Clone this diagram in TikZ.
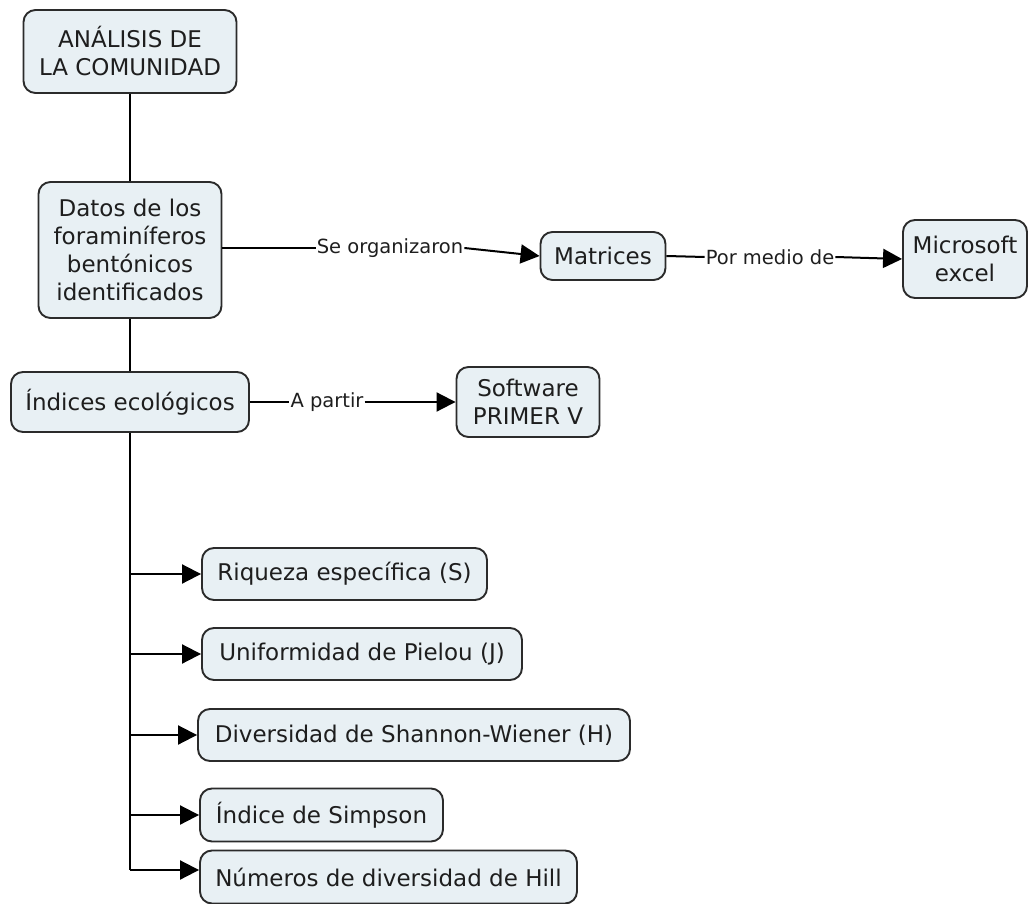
\documentclass[tikz,border=0pt]{standalone}
\usepackage{fontspec}
\setmainfont{DejaVu Sans}
\usetikzlibrary{arrows.meta}
\definecolor{boxfill}{HTML}{E8F0F4}
\definecolor{boxline}{HTML}{2B2B2B}
\definecolor{ink}{HTML}{1E1E1E}

\begin{document}
\begin{tikzpicture}[x=1pt,y=-1pt,
  concept/.style={draw=boxline, line width=1.9pt, fill=boxfill,
    rounded corners=12pt, align=center, text=ink, inner sep=0pt,
    font=\fontsize{23}{28}\selectfont},
  linklabel/.style={font=\fontsize{19.5}{23}\selectfont,
    text=ink, inner sep=1pt},
  link/.style={line width=2pt, draw=black},
  arrowlink/.style={link, -{Triangle[length=19pt,width=19pt]}},
]
\useasboundingbox (0,0) rectangle (1031,904);

% main column
\node[concept, minimum width=213pt, minimum height=83pt] (ana) at (130,51.5)
  {ANÁLISIS DE\\LA COMUNIDAD};
\node[concept, minimum width=183pt, minimum height=136pt] (datos) at (130,250)
  {Datos de los\\foraminíferos\\bentónicos\\identificados};
\node[concept, minimum width=238pt, minimum height=60pt] (ind) at (130,402)
  {Índices ecológicos};

% right-hand concepts
\node[concept, minimum width=125pt, minimum height=48pt] (mat) at (603,256)
  {Matrices};
\node[concept, minimum width=124pt, minimum height=78pt] (ms) at (965,259)
  {Microsoft\\excel};
\node[concept, minimum width=143pt, minimum height=70pt] (sw) at (528,402)
  {Software\\PRIMER V};

% list of indices
\node[concept, minimum width=285pt, minimum height=52pt] (riq) at (344.5,574)
  {Riqueza específica (S)};
\node[concept, minimum width=320pt, minimum height=52pt] (uni) at (362,654)
  {Uniformidad de Pielou (J)};
\node[concept, minimum width=432pt, minimum height=52pt] (div) at (414,735)
  {Diversidad de Shannon-Wiener (H)};
\node[concept, minimum width=243pt, minimum height=53pt] (sim) at (321.5,815)
  {Índice de Simpson};
\node[concept, minimum width=377pt, minimum height=53pt] (hill) at (388.5,877)
  {Números de diversidad de Hill};

% link labels
\node[linklabel] (l1) at (390,248) {Se organizaron};
\node[linklabel] (l2) at (770,257) {Por medio de};
\node[linklabel] (l3) at (327,402) {A partir};

% connectors
\draw[link] (ana.south) -- (datos.north);
\draw[link] (datos.south) -- (ind.north);

\draw[link] (datos.east |- l1) -- (l1.west);
\draw[arrowlink] (l1.east) -- (mat.west);
\draw[link] (mat.east) -- (l2.west);
\draw[arrowlink] (l2.east) -- (ms.west);
\draw[link] (ind.east) -- (l3.west);
\draw[arrowlink] (l3.east) -- (sw.west);

\coordinate (trunkend) at (130,870);
\draw[link] (ind.south) -- (trunkend);
\draw[arrowlink] (ind.south |- riq.west) -- (riq.west);
\draw[arrowlink] (ind.south |- uni.west) -- (uni.west);
\draw[arrowlink] (ind.south |- div.west) -- (div.west);
\draw[arrowlink] (ind.south |- sim.west) -- (sim.west);
\draw[arrowlink] (trunkend) -- (trunkend -| hill.west);
\end{tikzpicture}
\end{document}
